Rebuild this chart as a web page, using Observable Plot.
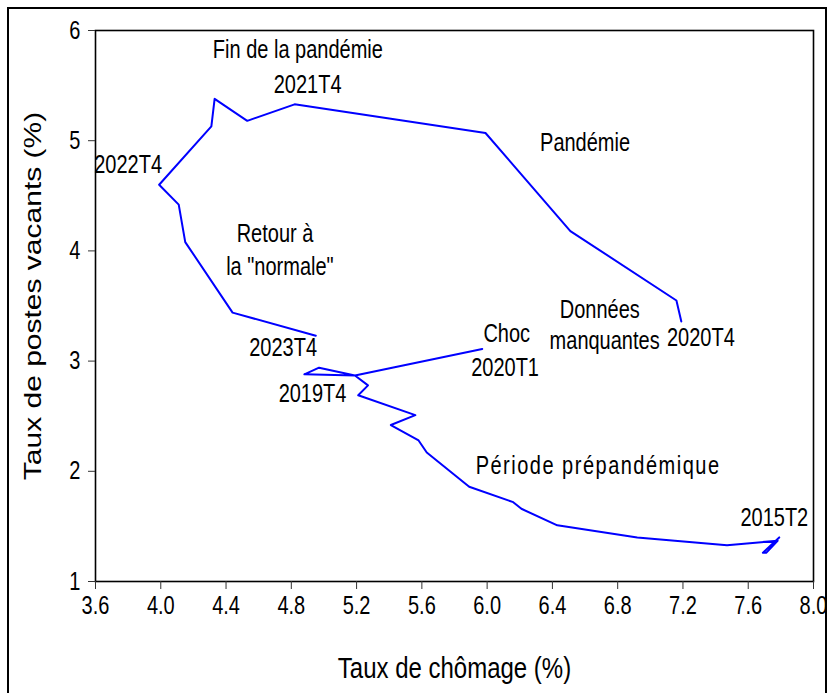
<!DOCTYPE html>
<html>
<head>
<meta charset="utf-8">
<script src="https://cdn.jsdelivr.net/npm/d3@7"></script>
<script src="https://cdn.jsdelivr.net/npm/@observablehq/plot@0.6"></script>
<style>
  body { margin: 0; background: #fff; }
  #wrap { position: relative; width: 827px; height: 693px; overflow: hidden; background: #fff; }
  #border { position: absolute; left: 7px; top: 7px; width: 820px; height: 720px; border: 2px solid #000; box-sizing: border-box; }
  #chart { position: absolute; left: 0; top: 0; }
</style>
</head>
<body>
<div id="wrap"><div id="border"></div><div id="chart"></div></div>
<script>
// Pre-pandemic segment: 2015T2 -> 2020T1 (unemployment %, vacancy %)
const preUnemp   = [7.79, 7.69, 7.71, 7.78, 7.47, 6.92, 6.43, 6.21, 6.16, 5.89, 5.63, 5.58, 5.41, 5.56, 5.21, 5.27, 5.19, 4.97, 4.88, 5.19, 5.97];
const preVacancy = [1.40, 1.26, 1.26, 1.37, 1.33, 1.40, 1.51, 1.66, 1.72, 1.86, 2.17, 2.28, 2.42, 2.51, 2.69, 2.78, 2.87, 2.94, 2.88, 2.87, 3.11];
// Pandemic and after: 2020T4 -> 2023T4
const postUnemp   = [7.19, 7.16, 6.51, 5.99, 4.82, 4.53, 4.33, 4.31, 3.99, 4.11, 4.15, 4.44, 4.95];
const postVacancy = [3.36, 3.55, 4.18, 5.07, 5.33, 5.18, 5.38, 5.13, 4.60, 4.42, 4.08, 3.44, 3.23];

// Annotations
const noteText = ["Fin de la pandémie", "2021T4", "Pandémie", "2022T4", "Retour à", "la \"normale\"",
                  "Données", "manquantes", "2020T4", "Choc", "2020T1", "2023T4", "2019T4",
                  "Période prépandémique", "2015T2"];
const noteX = [4.84, 4.90, 6.60, 3.80, 4.70, 4.73, 6.69, 6.72, 7.31, 6.12, 6.11, 4.75, 4.93, 6.68, 7.76];
const noteY = [5.82, 5.51, 4.98, 4.78, 4.15, 3.85, 3.46, 3.18, 3.21, 3.25, 2.94, 3.12, 2.70, 2.05, 1.58];

const xTicks = [3.6, 4.0, 4.4, 4.8, 5.2, 5.6, 6.0, 6.4, 6.8, 7.2, 7.6, 8.0];
const yTicks = [1, 2, 3, 4, 5, 6];
const xLabel = "Taux de chômage (%)";
const yLabel = "Taux de postes vacants (%)";

const series = [
  ...preUnemp.map((u, i) => ({u, v: preVacancy[i], seg: "pre"})),
  ...postUnemp.map((u, i) => ({u, v: postVacancy[i], seg: "post"}))
];
const notes = noteText.map((t, i) => ({t, x: noteX[i], y: noteY[i]}));

const FONT = '"Liberation Sans", Arial, sans-serif';

const plot = Plot.plot({
  width: 827,
  height: 693,
  marginLeft: 95,
  marginRight: 14,
  marginTop: 30,
  marginBottom: 112,
  style: {fontFamily: FONT, fontSize: "20px", color: "#000", background: "transparent", overflow: "visible"},
  x: {domain: [3.6, 8.0]},
  y: {domain: [1, 6]},
  marks: [
    Plot.frame({stroke: "#000", strokeWidth: 1.6}),
    Plot.axisX({ticks: xTicks, tickFormat: d3.format(".1f"), tickSize: 8, tickPadding: 7, label: null, fontSize: 20, stroke: "#333"}),
    Plot.axisY({ticks: yTicks, tickFormat: d3.format("d"), tickSize: 7, tickPadding: 8, label: null, fontSize: 20, stroke: "#333"}),
    Plot.line(series, {x: "u", y: "v", z: "seg", stroke: "#0000ff", strokeWidth: 2}),
    Plot.text(notes, {x: "x", y: "y", text: "t", fontSize: 20, fill: "#000"}),
    Plot.text([xLabel], {frameAnchor: "bottom", dy: 87, lineAnchor: "middle", textAnchor: "middle", fontSize: 24, fill: "#000"}),
    Plot.text([yLabel], {frameAnchor: "left", rotate: -90, dx: -62, dy: -10, lineAnchor: "middle", textAnchor: "middle", fontSize: 24, fill: "#000"})
  ]
});

// The reference's lettering is tall and narrow: stretch each text along the page's vertical axis.
const S = 1.25;
d3.select(plot).selectAll("text").each(function() {
  const el = d3.select(this);
  const t = el.attr("transform") || "";
  const x = +el.attr("x") || 0, y = +el.attr("y") || 0;
  const sc = t.includes("rotate") ? `scale(${S},1)` : `scale(1,${S})`;
  el.attr("transform", `${t} translate(${x},${y}) ${sc} translate(${-x},${-y})`);
  if (el.text() === "Période prépandémique") el.style("letter-spacing", "1.5px");
});

document.getElementById("chart").appendChild(plot);
</script>
</body>
</html>
